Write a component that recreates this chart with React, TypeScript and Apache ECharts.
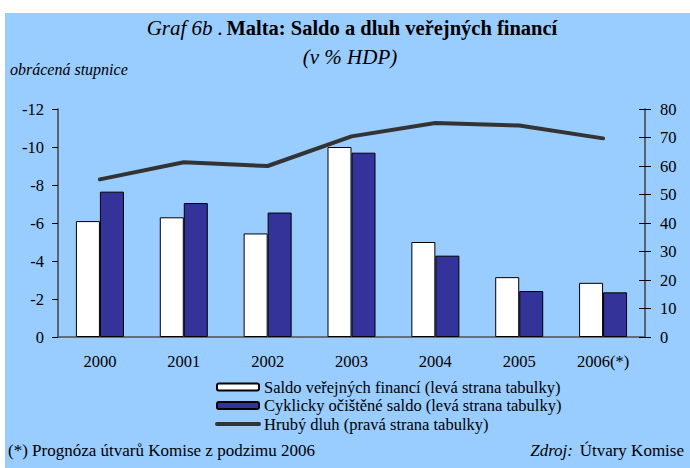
import React, { useEffect, useRef } from "react";
import * as echarts from "echarts";

const categories = ["2000", "2001", "2002", "2003", "2004", "2005", "2006(*)"];
const saldo = [-6.1, -6.3, -5.45, -10.0, -5.0, -3.15, -2.85];
const cyklicky = [-7.65, -7.05, -6.55, -9.7, -4.28, -2.42, -2.35];
const dluh = [55.3, 61.3, 60.0, 70.4, 75.1, 74.2, 69.7];

const leftTicks = { min: -12, max: 0, interval: 2 };
const rightTicks = { min: 0, max: 80, interval: 10 };

const SERIF = '"Liberation Serif", "Times New Roman", serif';

export default function App() {
  const ref = useRef<HTMLDivElement>(null);
  useEffect(() => {
    if (!ref.current) return;
    const chart = echarts.init(ref.current, undefined, { renderer: "svg" });
    const axisColor = "#404040";
    chart.setOption({
      animation: false,
      backgroundColor: "#ffffff",
      textStyle: { fontFamily: SERIF },
      graphic: [
        {
          type: "rect",
          z: -10,
          silent: true,
          shape: { x: 5, y: 13, width: 690, height: 460 },
          style: { fill: "#99CCFF" },
        },
        {
          type: "text",
          x: 352,
          y: 28,
          style: {
            text: "{i|Graf 6b .} {b|Malta: Saldo a dluh veřejných financí}",
            textAlign: "center",
            textVerticalAlign: "middle",
            rich: {
              i: { fontFamily: SERIF, fontStyle: "italic", fontSize: 21, fill: "#000" },
              b: { fontFamily: SERIF, fontWeight: "bold", fontSize: 20.5, fill: "#000" },
            },
          },
        },
        {
          type: "text",
          x: 350,
          y: 57,
          style: {
            text: "(v % HDP)",
            textAlign: "center",
            textVerticalAlign: "middle",
            font: `italic 21px ${SERIF}`,
            fill: "#000",
          },
        },
        {
          type: "text",
          x: 10,
          y: 69,
          style: {
            text: "obrácená stupnice",
            textAlign: "left",
            textVerticalAlign: "middle",
            font: `italic 16px ${SERIF}`,
            fill: "#000",
          },
        },
        {
          type: "text",
          x: 8,
          y: 450,
          style: {
            text: "(*) Prognóza útvarů Komise z podzimu 2006",
            textAlign: "left",
            textVerticalAlign: "middle",
            font: `17px ${SERIF}`,
            fill: "#000",
          },
        },
        {
          type: "text",
          x: 684,
          y: 450,
          style: {
            text: "{i|Zdroj:}  {n|Útvary Komise}",
            textAlign: "right",
            textVerticalAlign: "middle",
            rich: {
              i: { fontFamily: SERIF, fontStyle: "italic", fontSize: 17, fill: "#000" },
              n: { fontFamily: SERIF, fontSize: 17, fill: "#000" },
            },
          },
        },
      ],
      legend: {
        orient: "vertical",
        left: 215,
        top: 378,
        padding: 0,
        itemGap: 0.5,
        itemWidth: 42,
        itemHeight: 7,
        textStyle: { fontFamily: SERIF, fontSize: 16.5, lineHeight: 18, color: "#000" },
        data: [
          { name: "Saldo veřejných financí (levá strana tabulky)" },
          { name: "Cyklicky očištěné saldo (levá strana tabulky)" },
          {
            name: "Hrubý dluh (pravá strana tabulky)",
            itemStyle: { opacity: 0 },
            lineStyle: { width: 4, cap: "round", color: "#333333" },
          },
        ],
      },
      grid: { left: 58, right: 45, top: 109, bottom: 131 },
      xAxis: {
        type: "category",
        data: categories,
        axisLine: { lineStyle: { color: "#505050", width: 1.5 } },
        axisTick: { inside: true, length: 6, lineStyle: { color: "#000" } },
        axisLabel: { fontFamily: SERIF, fontSize: 16.5, color: "#000", margin: 16 },
      },
      yAxis: [
        {
          type: "value",
          position: "left",
          inverse: true,
          min: leftTicks.min,
          max: leftTicks.max,
          interval: leftTicks.interval,
          splitLine: { show: false },
          axisLine: { show: true, lineStyle: { color: axisColor, width: 1.5 } },
          axisTick: { show: true, length: 6, lineStyle: { color: "#000" } },
          axisLabel: { fontFamily: SERIF, fontSize: 16.5, color: "#000", margin: 14 },
        },
        {
          type: "value",
          position: "right",
          min: rightTicks.min,
          max: rightTicks.max,
          interval: rightTicks.interval,
          splitLine: { show: false },
          axisLine: { show: true, lineStyle: { color: axisColor, width: 1.5 } },
          axisTick: { show: true, length: 6, lineStyle: { color: "#000" } },
          axisLabel: { fontFamily: SERIF, fontSize: 16.5, color: "#000", margin: 15 },
        },
        {
          type: "value",
          position: "right",
          min: rightTicks.min,
          max: rightTicks.max,
          interval: rightTicks.interval,
          splitLine: { show: false },
          axisLine: { show: false },
          axisTick: { show: true, inside: true, length: 6, lineStyle: { color: "#000" } },
          axisLabel: { show: false },
        },
      ],
      series: [
        {
          name: "Saldo veřejných financí (levá strana tabulky)",
          type: "bar",
          yAxisIndex: 0,
          data: saldo,
          barWidth: 24,
          barGap: "0%",
          itemStyle: { color: "#FFFFFF", borderColor: "#000", borderWidth: 1 },
        },
        {
          name: "Cyklicky očištěné saldo (levá strana tabulky)",
          type: "bar",
          yAxisIndex: 0,
          data: cyklicky,
          barWidth: 24,
          barGap: "0%",
          itemStyle: { color: "#333399", borderColor: "#000", borderWidth: 1 },
        },
        {
          name: "Hrubý dluh (pravá strana tabulky)",
          type: "line",
          yAxisIndex: 1,
          data: dluh,
          symbol: "none",
          z: 5,
          lineStyle: { color: "#333333", width: 4, cap: "round" },
          itemStyle: { color: "#333333" },
        },
      ],
    });
    return () => chart.dispose();
  }, []);
  return (
    <div
      ref={ref}
      style={{ position: "fixed", left: 0, top: 0, width: 690, height: 468 }}
    />
  );
}
